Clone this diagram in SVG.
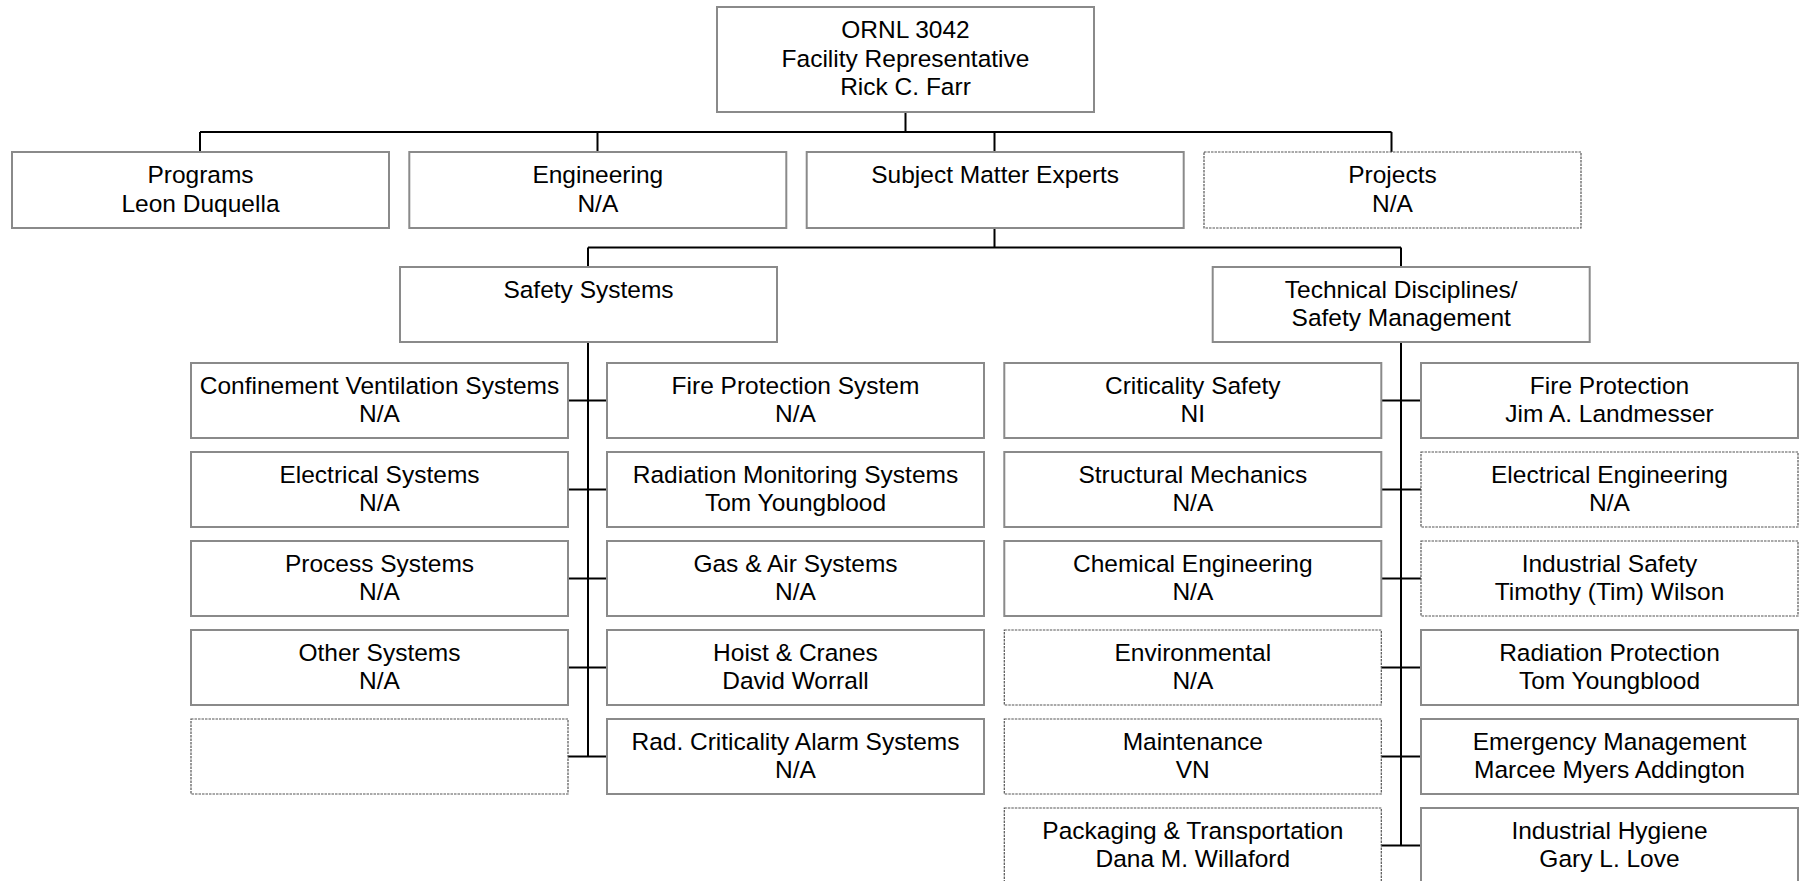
<svg xmlns="http://www.w3.org/2000/svg" width="1799" height="881" viewBox="0 0 1799 881">
<style>
.b{fill:#fff;stroke:#8a8a8a;stroke-width:2}
.d{fill:#fff;stroke:#555;stroke-width:1.2;stroke-dasharray:2.5 1}
.t{font-family:"Liberation Sans",Arial,sans-serif;font-size:24.5px;fill:#000;text-anchor:middle}
.c{stroke:#000;stroke-width:2;fill:none}
</style>
<rect width="1799" height="881" fill="#fff"/>
<g id="connectors" class="c">
<path d="M905.5 112V132M200 132H1391.5M200 132V152M597.5 132V152M994.5 132V152M1391.5 132V152"/>
<path d="M994.5 228V247.5M588 247.5H1401M588 247.5V267M1401 247.5V267"/>
<path d="M588 342V756.5M568 400.5H607M568 489.5H607M568 578.5H607M568 667.5H607M568 756.5H607"/>
<path d="M1401 342V845.5M1381 400.5H1421M1381 489.5H1421M1381 578.5H1421M1381 667.5H1421M1381 756.5H1421M1381 845.5H1421"/>
</g>
<g id="n-top"><rect class="b" x="717" y="7" width="377" height="105"/><text class="t" x="905.5" y="38">ORNL 3042</text><text class="t" x="905.5" y="66.5">Facility Representative</text><text class="t" x="905.5" y="95">Rick C. Farr</text></g>
<g id="n-programs"><rect class="b" x="12" y="152" width="377" height="76"/><text class="t" x="200.5" y="183">Programs</text><text class="t" x="200.5" y="211.5">Leon Duquella</text></g>
<g id="n-engineering"><rect class="b" x="409.3" y="152" width="377" height="76"/><text class="t" x="597.8" y="183">Engineering</text><text class="t" x="597.8" y="211.5">N/A</text></g>
<g id="n-sme"><rect class="b" x="806.7" y="152" width="377" height="76"/><text class="t" x="995.2" y="183">Subject Matter Experts</text></g>
<g id="n-projects"><rect class="d" x="1204" y="152" width="377" height="76"/><text class="t" x="1392.5" y="183">Projects</text><text class="t" x="1392.5" y="211.5">N/A</text></g>
<g id="n-safety"><rect class="b" x="400" y="267" width="377" height="75"/><text class="t" x="588.5" y="297.5">Safety Systems</text></g>
<g id="n-tech"><rect class="b" x="1212.7" y="267" width="377" height="75"/><text class="t" x="1401.2" y="297.5">Technical Disciplines/</text><text class="t" x="1401.2" y="326">Safety Management</text></g>
<g id="n-cvs"><rect class="b" x="191" y="363" width="377" height="75"/><text class="t" x="379.5" y="393.5">Confinement Ventilation Systems</text><text class="t" x="379.5" y="422">N/A</text></g>
<g id="n-es"><rect class="b" x="191" y="452" width="377" height="75"/><text class="t" x="379.5" y="482.5">Electrical Systems</text><text class="t" x="379.5" y="511">N/A</text></g>
<g id="n-ps"><rect class="b" x="191" y="541" width="377" height="75"/><text class="t" x="379.5" y="571.5">Process Systems</text><text class="t" x="379.5" y="600">N/A</text></g>
<g id="n-os"><rect class="b" x="191" y="630" width="377" height="75"/><text class="t" x="379.5" y="660.5">Other Systems</text><text class="t" x="379.5" y="689">N/A</text></g>
<g id="n-blank"><rect class="d" x="191" y="719" width="377" height="75"/></g>
<g id="n-fps"><rect class="b" x="607" y="363" width="377" height="75"/><text class="t" x="795.5" y="393.5">Fire Protection System</text><text class="t" x="795.5" y="422">N/A</text></g>
<g id="n-rms"><rect class="b" x="607" y="452" width="377" height="75"/><text class="t" x="795.5" y="482.5">Radiation Monitoring Systems</text><text class="t" x="795.5" y="511">Tom Youngblood</text></g>
<g id="n-gas"><rect class="b" x="607" y="541" width="377" height="75"/><text class="t" x="795.5" y="571.5">Gas &amp; Air Systems</text><text class="t" x="795.5" y="600">N/A</text></g>
<g id="n-hoist"><rect class="b" x="607" y="630" width="377" height="75"/><text class="t" x="795.5" y="660.5">Hoist &amp; Cranes</text><text class="t" x="795.5" y="689">David Worrall</text></g>
<g id="n-rcas"><rect class="b" x="607" y="719" width="377" height="75"/><text class="t" x="795.5" y="749.5">Rad. Criticality Alarm Systems</text><text class="t" x="795.5" y="778">N/A</text></g>
<g id="n-crit"><rect class="b" x="1004.3" y="363" width="377" height="75"/><text class="t" x="1192.8" y="393.5">Criticality Safety</text><text class="t" x="1192.8" y="422">NI</text></g>
<g id="n-struct"><rect class="b" x="1004.3" y="452" width="377" height="75"/><text class="t" x="1192.8" y="482.5">Structural Mechanics</text><text class="t" x="1192.8" y="511">N/A</text></g>
<g id="n-chem"><rect class="b" x="1004.3" y="541" width="377" height="75"/><text class="t" x="1192.8" y="571.5">Chemical Engineering</text><text class="t" x="1192.8" y="600">N/A</text></g>
<g id="n-env"><rect class="d" x="1004.3" y="630" width="377" height="75"/><text class="t" x="1192.8" y="660.5">Environmental</text><text class="t" x="1192.8" y="689">N/A</text></g>
<g id="n-maint"><rect class="d" x="1004.3" y="719" width="377" height="75"/><text class="t" x="1192.8" y="749.5">Maintenance</text><text class="t" x="1192.8" y="778">VN</text></g>
<g id="n-pack"><rect class="d" x="1004.3" y="808" width="377" height="75"/><text class="t" x="1192.8" y="838.5">Packaging &amp; Transportation</text><text class="t" x="1192.8" y="867">Dana M. Willaford</text></g>
<g id="n-fire"><rect class="b" x="1421" y="363" width="377" height="75"/><text class="t" x="1609.5" y="393.5">Fire Protection</text><text class="t" x="1609.5" y="422">Jim A. Landmesser</text></g>
<g id="n-elec"><rect class="d" x="1421" y="452" width="377" height="75"/><text class="t" x="1609.5" y="482.5">Electrical Engineering</text><text class="t" x="1609.5" y="511">N/A</text></g>
<g id="n-indsafe"><rect class="d" x="1421" y="541" width="377" height="75"/><text class="t" x="1609.5" y="571.5">Industrial Safety</text><text class="t" x="1609.5" y="600">Timothy (Tim) Wilson</text></g>
<g id="n-radprot"><rect class="b" x="1421" y="630" width="377" height="75"/><text class="t" x="1609.5" y="660.5">Radiation Protection</text><text class="t" x="1609.5" y="689">Tom Youngblood</text></g>
<g id="n-emerg"><rect class="b" x="1421" y="719" width="377" height="75"/><text class="t" x="1609.5" y="749.5">Emergency Management</text><text class="t" x="1609.5" y="778">Marcee Myers Addington</text></g>
<g id="n-ih"><rect class="b" x="1421" y="808" width="377" height="75"/><text class="t" x="1609.5" y="838.5">Industrial Hygiene</text><text class="t" x="1609.5" y="867">Gary L. Love</text></g>
</svg>
